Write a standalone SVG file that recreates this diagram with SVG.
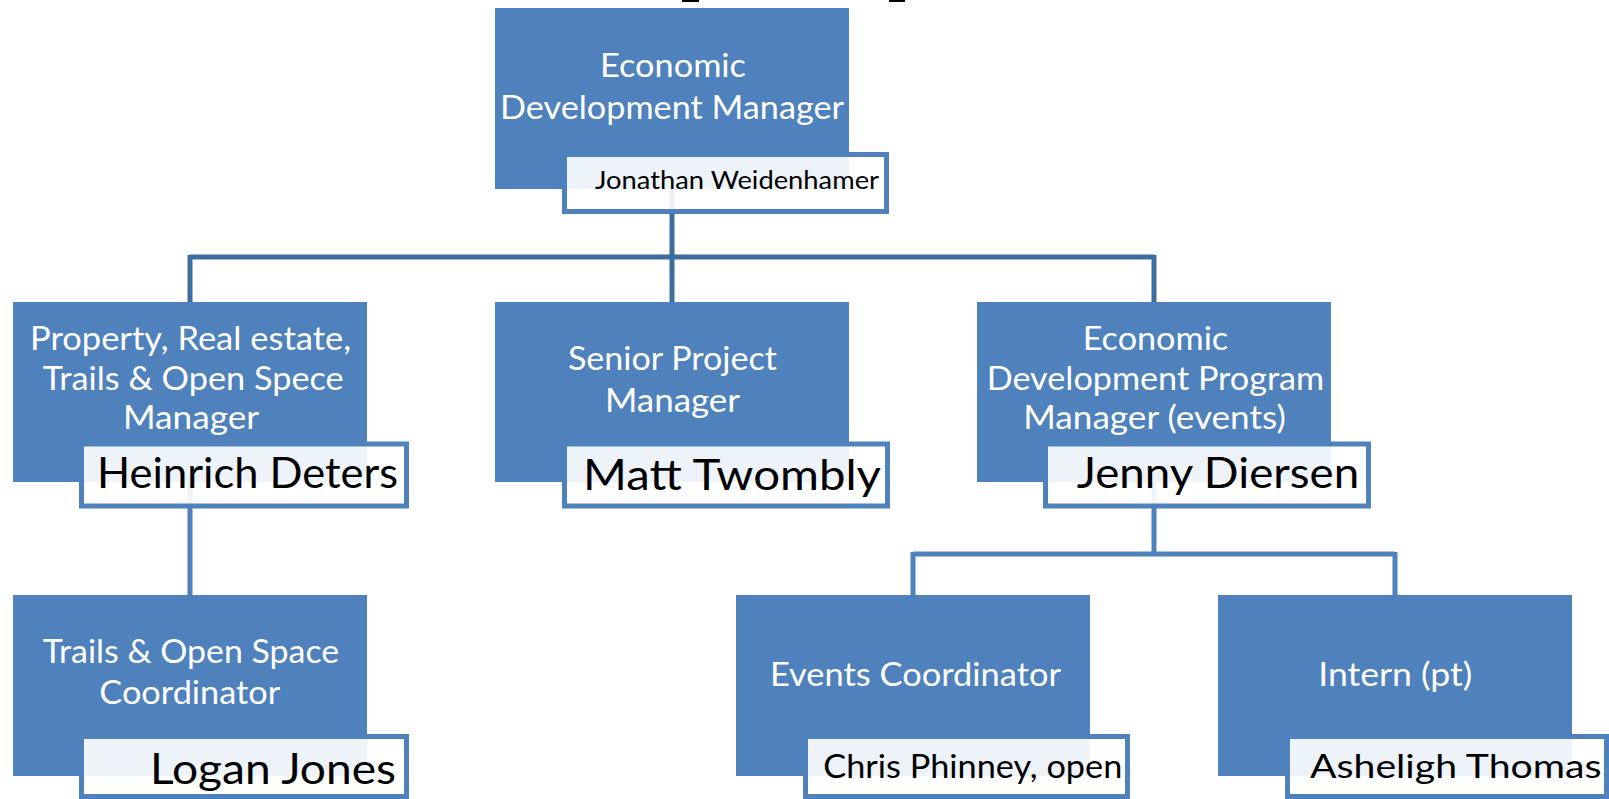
<svg xmlns="http://www.w3.org/2000/svg" width="1609" height="799" viewBox="0 0 1609 799">
  <style>
    .box { fill: #4f81bd; }
    .name { fill: #ffffff; fill-opacity: 0.9; stroke: #4f81bd; stroke-width: 5; }
    .title { font-family: Lato, "Liberation Sans", sans-serif; font-size: 33px; fill: #ffffff; }
    .nm { font-family: Lato, "Liberation Sans", sans-serif; font-size: 43px; fill: #000000; }
    .nm-s { font-family: Lato, "Liberation Sans", sans-serif; font-size: 32.5px; fill: #000000; }
    .nm-xs { font-family: Lato, "Liberation Sans", sans-serif; font-size: 25.5px; fill: #000000; }
    .conn-dark { stroke: #3f6c9f; stroke-width: 5; fill: none; }
    .conn { stroke: #4f81bd; stroke-width: 5; fill: none; }
  </style>
  <rect width="1609" height="799" fill="#ffffff"/>
  <g id="clipped-fragments" fill="#000000">
    <rect x="682" y="0" width="17" height="2"/>
    <rect x="889" y="0" width="16" height="2"/>
  </g>
  <g id="connectors">
    <path class="conn-dark" d="M672 189 V257 M189.5 257 H1154.5 M190 255 V302 M672 257 V302 M1154 255 V302"/>
    <path class="conn" d="M190 482 V595"/>
    <path class="conn" d="M1154 482 V554 M913 554 H1395 M913 552 V595 M1395 552 V595"/>
  </g>
  <g id="node-edm">
    <rect class="box" x="495" y="8" width="354" height="181"/>
    <text class="title" x="600" y="77" textLength="146" lengthAdjust="spacingAndGlyphs">Economic</text>
    <text class="title" x="500" y="118.5" textLength="344" lengthAdjust="spacingAndGlyphs">Development Manager</text>
    <rect class="name" x="564.5" y="154.5" width="322" height="57"/>
    <text class="nm-xs" x="595" y="189" textLength="284" lengthAdjust="spacingAndGlyphs">Jonathan Weidenhamer</text>
  </g>
  <g id="node-property">
    <rect class="box" x="13" y="302" width="354" height="180"/>
    <text class="title" x="30" y="350" textLength="321" lengthAdjust="spacingAndGlyphs">Property, Real estate,</text>
    <text class="title" x="42.7" y="390" textLength="301" lengthAdjust="spacingAndGlyphs">Trails &amp; Open Spece</text>
    <text class="title" x="123" y="429" textLength="136" lengthAdjust="spacingAndGlyphs">Manager</text>
    <rect class="name" x="81.5" y="444" width="325" height="62"/>
    <text class="nm" x="97" y="488" textLength="301" lengthAdjust="spacingAndGlyphs">Heinrich Deters</text>
  </g>
  <g id="node-senior">
    <rect class="box" x="495" y="302" width="354" height="180"/>
    <text class="title" x="568" y="370" textLength="209" lengthAdjust="spacingAndGlyphs">Senior Project</text>
    <text class="title" x="605" y="411.5" textLength="135" lengthAdjust="spacingAndGlyphs">Manager</text>
    <rect class="name" x="564.5" y="444" width="323" height="62"/>
    <text class="nm" x="583" y="490" textLength="298" lengthAdjust="spacingAndGlyphs">Matt Twombly</text>
  </g>
  <g id="node-edpm">
    <rect class="box" x="977" y="302" width="354" height="180"/>
    <text class="title" x="1082.7" y="350" textLength="145.5" lengthAdjust="spacingAndGlyphs">Economic</text>
    <text class="title" x="986.7" y="390" textLength="337.5" lengthAdjust="spacingAndGlyphs">Development Program</text>
    <text class="title" x="1023.3" y="429.3" textLength="262.5" lengthAdjust="spacingAndGlyphs">Manager (events)</text>
    <rect class="name" x="1045.5" y="444" width="323" height="62"/>
    <text class="nm" x="1076.7" y="488.3" textLength="282.5" lengthAdjust="spacingAndGlyphs">Jenny Diersen</text>
  </g>
  <g id="node-trails">
    <rect class="box" x="13" y="595" width="354" height="181"/>
    <text class="title" x="42.7" y="663.3" textLength="296.5" lengthAdjust="spacingAndGlyphs">Trails &amp; Open Space</text>
    <text class="title" x="99.3" y="704" textLength="181" lengthAdjust="spacingAndGlyphs">Coordinator</text>
    <rect class="name" x="81.5" y="736.5" width="325" height="60"/>
    <text class="nm" x="150" y="784" textLength="246" lengthAdjust="spacingAndGlyphs">Logan Jones</text>
  </g>
  <g id="node-events">
    <rect class="box" x="736" y="595" width="354" height="181"/>
    <text class="title" x="770" y="686" textLength="291" lengthAdjust="spacingAndGlyphs">Events Coordinator</text>
    <rect class="name" x="805.5" y="736.5" width="322" height="60"/>
    <text class="nm-s" x="823.3" y="778.3" textLength="299" lengthAdjust="spacingAndGlyphs">Chris Phinney, open</text>
  </g>
  <g id="node-intern">
    <rect class="box" x="1218" y="595" width="354" height="181"/>
    <text class="title" x="1318.3" y="686" textLength="154" lengthAdjust="spacingAndGlyphs">Intern (pt)</text>
    <rect class="name" x="1287.5" y="736.5" width="319" height="60"/>
    <text class="nm-s" x="1310" y="778.3" textLength="291.5" lengthAdjust="spacingAndGlyphs">Asheligh Thomas</text>
  </g>
</svg>
